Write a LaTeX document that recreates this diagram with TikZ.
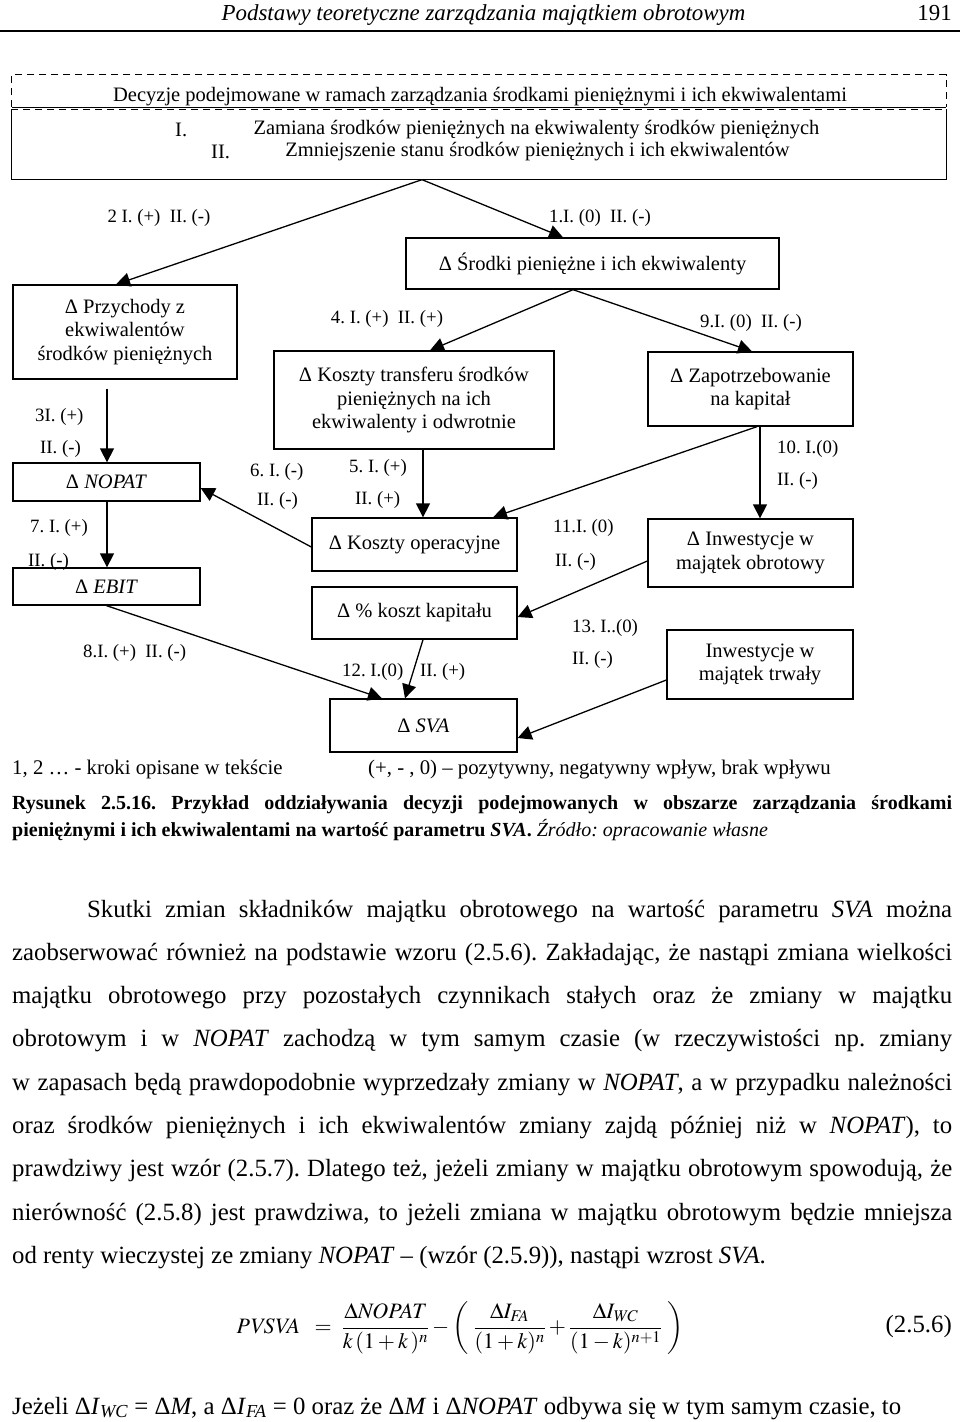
\documentclass[tikz,border=0pt]{standalone}
\usepackage{mathptmx}
\usepackage{fontspec}
\setmainfont{Liberation Serif}
\usetikzlibrary{arrows.meta}
\frenchspacing
\newcommand\myboxfont{\fontsize{20.5}{23.5}\selectfont}
\newcommand\mylblfont{\fontsize{18.8}{22}\selectfont}
\newcommand\mybodyfont{\fontsize{24.8}{28}\selectfont}
\newcommand\mycapfont{\fontsize{20}{24}\selectfont}
\newcommand\mylegfont{\fontsize{20.8}{24}\selectfont}
\tikzset{
  box/.style={draw, line width=1.3pt, inner sep=0pt, align=center, font=\myboxfont},
  lbl/.style={inner sep=0pt, font=\mylblfont},
  plain/.style={inner sep=0pt, font=\myboxfont},
  body/.style={inner sep=0pt, anchor=base west, font=\mybodyfont},
  arr/.style={line width=1.3pt, -{Triangle[length=14pt,width=14pt]}},
  dashedline/.style={line width=1.1pt, dash pattern=on 7pt off 5pt},
}
\begin{document}
\begin{tikzpicture}[x=1pt,y=-1pt]
\useasboundingbox (0,0) rectangle (960,1422);
\fill[white] (0,0) rectangle (960,1422);

% header
\node[inner sep=0pt, anchor=base, font=\fontsize{22.9}{26}\selectfont\itshape] (hdr) at (483.5,20) {Podstawy teoretyczne zarządzania majątkiem obrotowym};
\node[inner sep=0pt, anchor=base east, font=\fontsize{22.9}{26}\selectfont] (pg) at (952,20) {191};
\coordinate (hl) at (0,31);
\coordinate (hr) at (960,31);
\draw[line width=2pt] (hl) -- (hr);

% top boxes
\node[minimum width=934pt, minimum height=32pt, inner sep=0pt] (top1) at (479,91) {};
\node[box, minimum width=934pt, minimum height=69pt, draw=none] (top2) at (479,144.5) {};
\draw[dashedline] (top1.south west) -- (top1.north west) -- (top1.north east) -- (top1.south east);
\draw[line width=1.3pt] (top1.south west) -- (top1.south east);
\draw[dashedline] (top2.north west) -- (top2.north east);
\draw[line width=1.3pt] (top2.north west) -- (top2.south west) -- (top2.south east) -- (top2.north east);
\node[plain] (t1) at (480,96.5) {Decyzje podejmowane w ramach zarządzania środkami pieniężnymi i ich ekwiwalentami};
\node[plain, anchor=west] (n1) at (175,130) {I.};
\node[plain] (t2) at (536.5,130) {Zamiana środków pieniężnych na ekwiwalenty środków pieniężnych};
\node[plain, anchor=west] (n2) at (211,152) {II.};
\node[plain] (t3) at (537.5,152) {Zmniejszenie stanu środków pieniężnych i ich ekwiwalentów};

% boxes
\node[box, minimum width=373pt, minimum height=51pt] (srodki) at (592.5,263.5) {Δ Środki pieniężne i ich ekwiwalenty};
\node[box, minimum width=224pt, minimum height=94pt] (przych) at (125,332) {Δ Przychody z\\ekwiwalentów\\środków pieniężnych};
\node[box, minimum width=187pt, minimum height=38pt] (nopat) at (106.5,482) {Δ \textit{NOPAT}};
\node[box, minimum width=187pt, minimum height=37pt] (ebit) at (106.5,586.5) {Δ \textit{EBIT}};
\node[box, minimum width=280pt, minimum height=98pt] (ktrans) at (414,400) {Δ Koszty transferu środków\\pieniężnych na ich\\ekwiwalenty i odwrotnie};
\node[box, minimum width=205pt, minimum height=53pt] (kop) at (414.5,544.5) {Δ Koszty operacyjne};
\node[box, minimum width=205pt, minimum height=52pt] (kkap) at (414.5,613) {Δ \% koszt kapitału};
\node[box, minimum width=187pt, minimum height=53pt] (sva) at (423.5,725.5) {Δ \textit{SVA}};
\node[box, minimum width=205pt, minimum height=74pt] (zap) at (750.5,389) {Δ Zapotrzebowanie\\na kapitał};
\node[box, minimum width=205pt, minimum height=68pt] (inwo) at (750.5,553) {Δ Inwestycje w\\majątek obrotowy};
\node[box, minimum width=186pt, minimum height=69pt] (inwt) at (760,664.5) {Inwestycje w\\majątek trwały};

% arrows
\draw[arr] ([xshift=-57pt]top2.south) -- ([xshift=-9pt]przych.north);
\draw[arr] ([xshift=-57pt]top2.south) -- ([xshift=-29.5pt]srodki.north);
\draw[arr] ([xshift=-19.5pt]srodki.south) -- ([xshift=16pt]ktrans.north);
\draw[arr] ([xshift=-19.5pt]srodki.south) -- ([xshift=1.5pt]zap.north);
\draw[arr] ([xshift=-18pt,yshift=-9pt]przych.south) -- ([xshift=0.5pt]nopat.north);
\draw[arr] ([xshift=0.5pt]nopat.south) -- ([xshift=0.5pt]ebit.north);
\draw[arr] (ebit.south) -- ([xshift=-41.5pt]sva.north);
\draw[arr] ([xshift=9pt]ktrans.south) -- ([xshift=8.5pt]kop.north);
\draw[arr] ([yshift=-2.5pt]kop.west) -- ([yshift=-6pt]nopat.east);
\draw[arr] ([xshift=6.5pt]zap.south) -- ([xshift=78.5pt]kop.north);
\draw[arr] ([xshift=9.5pt]zap.south) -- ([xshift=9.5pt]inwo.north);
\draw[arr] ([yshift=-8pt]inwo.west) -- ([yshift=-4pt]kkap.east);
\draw[arr] ([yshift=-15.5pt]inwt.west) -- ([yshift=-12.5pt]sva.east);
\draw[arr] ([xshift=8.5pt]kkap.south) -- ([xshift=-18.5pt]sva.north);

% labels
\node[lbl] (l2) at (159,218) {2 I. (+)\enspace II. (-)};
\node[lbl] (l1) at (600,218) {1.I. (0)\enspace II. (-)};
\node[lbl] (l4) at (387,319) {4. I. (+)\enspace II. (+)};
\node[lbl] (l9) at (751,323) {9.I. (0)\enspace II. (-)};
\node[lbl, anchor=west] (l3a) at (35,417) {3I. (+)};
\node[lbl, anchor=west] (l3b) at (40,449) {II. (-)};
\node[lbl, anchor=west] (l7a) at (30,528) {7. I. (+)};
\node[lbl, anchor=west] (l7b) at (28,562) {II. (-)};
\node[lbl, anchor=west] (l8) at (83,653) {8.I. (+)\enspace II. (-)};
\node[lbl, anchor=west] (l6a) at (250,472) {6. I. (-)};
\node[lbl, anchor=west] (l6b) at (257,501) {II. (-)};
\node[lbl, anchor=west] (l5a) at (349,468) {5. I. (+)};
\node[lbl, anchor=west] (l5b) at (355,500) {II. (+)};
\node[lbl, anchor=west] (l10a) at (777,449) {10. I.(0)};
\node[lbl, anchor=west] (l10b) at (777,481) {II. (-)};
\node[lbl, anchor=west] (l11a) at (553,528) {11.I. (0)};
\node[lbl, anchor=west] (l11b) at (555,562) {II. (-)};
\node[lbl, anchor=west] (l13a) at (572,628) {13. I..(0)};
\node[lbl, anchor=west] (l13b) at (572,660) {II. (-)};
\node[lbl, anchor=west] (l12a) at (342,672) {12. I.(0)};
\node[lbl, anchor=west] (l12b) at (420,672) {II. (+)};

% legend
\node[inner sep=0pt, anchor=base west, font=\mylegfont] (leg1) at (12,774) {1, 2 … - kroki opisane w tekście};
\node[inner sep=0pt, anchor=base west, font=\mylegfont] (leg2) at (368,774) {(+, - , 0) – pozytywny, negatywny wpływ, brak wpływu};

% caption
\node[inner sep=0pt, anchor=base west, font=\mycapfont] (cap1) at (12,809) {\makebox[940pt][s]{\bfseries Rysunek 2.5.16. Przykład oddziaływania decyzji podejmowanych w obszarze zarządzania środkami}};
\node[inner sep=0pt, anchor=base west, font=\mycapfont] (cap2) at (12,836) {\textbf{pieniężnymi i ich ekwiwalentami na wartość parametru \textit{SVA}.} \textit{Źródło: opracowanie własne}};

% body
\node[body] (b1) at (87,917) {\makebox[865pt][s]{Skutki zmian składników majątku obrotowego na wartość parametru \textit{SVA} można}};
\node[body] (b2) at (12,960.3) {\makebox[940pt][s]{zaobserwować również na podstawie wzoru (2.5.6). Zakładając, że nastąpi zmiana wielkości}};
\node[body] (b3) at (12,1003.6) {\makebox[940pt][s]{majątku obrotowego przy pozostałych czynnikach stałych oraz że zmiany w majątku}};
\node[body] (b4) at (12,1046.9) {\makebox[940pt][s]{obrotowym i w \textit{NOPAT} zachodzą w tym samym czasie (w rzeczywistości np. zmiany}};
\node[body] (b5) at (12,1090.2) {\makebox[940pt][s]{w zapasach będą prawdopodobnie wyprzedzały zmiany w \textit{NOPAT}, a w przypadku należności}};
\node[body] (b6) at (12,1133.5) {\makebox[940pt][s]{oraz środków pieniężnych i ich ekwiwalentów zmiany zajdą później niż w \textit{NOPAT}), to}};
\node[body] (b7) at (12,1176.8) {\makebox[940pt][s]{prawdziwy jest wzór (2.5.7). Dlatego też, jeżeli zmiany w majątku obrotowym spowodują, że}};
\node[body] (b8) at (12,1220.1) {\makebox[940pt][s]{nierówność (2.5.8) jest prawdziwa, to jeżeli zmiana w majątku obrotowym będzie mniejsza}};
\node[body] (b9) at (12,1263.4) {od renty wieczystej ze zmiany \textit{NOPAT} – (wzór (2.5.9)), nastąpi wzrost \textit{SVA}.};

% equation
\node[inner sep=0pt, font=\fontsize{22}{26}\selectfont] (eq) at (460,1328) {$\displaystyle \mathit{PVSVA} \;\;=\; \frac{\Delta\mathit{NOPAT}}{k\,(1+k\,)^{n}} - \left(\;\frac{\Delta I_{\mathit{FA}}}{(1+k)^{n}} + \frac{\Delta I_{\mathit{WC}}}{(1-k)^{n+1}}\;\right)$};
\node[inner sep=0pt, anchor=east, font=\mybodyfont] (eqn) at (952,1327) {(2.5.6)};

\node[body] (b10) at (12,1414) {Jeżeli Δ\textit{I}\textsubscript{\textit{WC}} = Δ\textit{M}, a Δ\textit{I}\textsubscript{\textit{FA}} = 0 oraz że Δ\textit{M} i Δ\textit{NOPAT} odbywa się w tym samym czasie, to};
\end{tikzpicture}
\end{document}
